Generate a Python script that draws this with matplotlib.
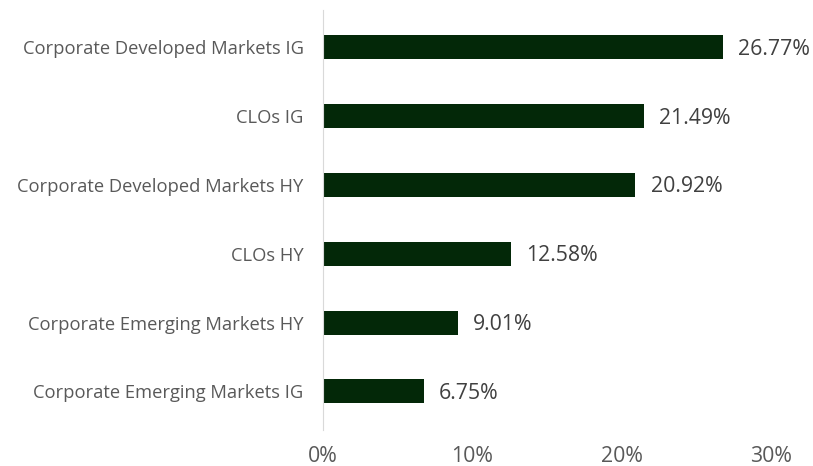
import matplotlib
matplotlib.use("Agg")
from matplotlib import pyplot as plt

categories = ["Corporate Emerging Markets IG", "Corporate Emerging Markets HY", "CLOs HY",
              "Corporate Developed Markets HY", "CLOs IG", "Corporate Developed Markets IG"]
values = [6.75, 9.01, 12.58, 20.92, 21.49, 26.77]
xticks = [0, 10, 20, 30]

plt.rcParams['font.family'] = ['Open Sans', 'DejaVu Sans']

fig = plt.figure(figsize=(8.13, 4.66), dpi=100)
ax = fig.add_axes([0.3973, 0.0773, 0.5510, 0.9012])

ypos = list(range(len(categories)))
ax.barh(ypos, values, height=0.35, color="#032808")

# value labels just right of each bar
for y, v in zip(ypos, values):
    ax.annotate("%.2f%%" % v, (v, y), xytext=(11, -1.5), textcoords="offset points",
                va="center", ha="left", fontsize=15.3, color="#404040")

ax.set_yticks(ypos)
ax.set_yticklabels(categories, fontsize=13.2, color="#595959")
ax.set_xticks(xticks)
ax.set_xticklabels(["%d%%" % t for t in xticks], fontsize=15.3, color="#595959")
ax.set_xlim(0, 30)
ax.set_ylim(-0.56, 5.54)
ax.tick_params(length=0)
ax.tick_params(axis="x", pad=11.5)
ax.tick_params(axis="y", pad=14)

for s in ["top", "right", "bottom"]:
    ax.spines[s].set_visible(False)
ax.spines["left"].set_color("#d9d9d9")

fig.savefig("out.png", dpi=100)
